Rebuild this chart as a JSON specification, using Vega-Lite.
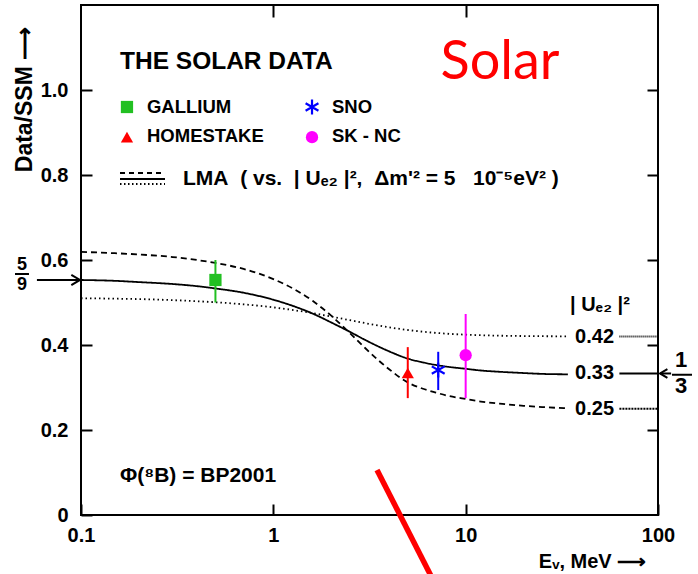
{
  "$schema": "https://vega.github.io/schema/vega-lite/v6.json",
  "width": 577,
  "height": 510,
  "autosize": {"type": "none"},
  "padding": {"left": 81, "top": 5, "right": 40, "bottom": 59},
  "background": "white",
  "config": {
    "view": {"stroke": "black", "strokeWidth": 2},
    "font": "Liberation Sans"
  },
  "datasets": {
    "curves": [
      {"E": 0.1, "P": 0.553, "s": "solid"}, {"E": 0.15, "P": 0.551, "s": "solid"}, {"E": 0.2, "P": 0.548, "s": "solid"}, {"E": 0.3, "P": 0.5435, "s": "solid"}, {"E": 0.4, "P": 0.5385, "s": "solid"}, {"E": 0.5, "P": 0.533, "s": "solid"}, {"E": 0.7, "P": 0.523, "s": "solid"}, {"E": 1, "P": 0.5065, "s": "solid"}, {"E": 1.3, "P": 0.49, "s": "solid"}, {"E": 1.6, "P": 0.474, "s": "solid"}, {"E": 2, "P": 0.453, "s": "solid"}, {"E": 2.5, "P": 0.431, "s": "solid"}, {"E": 3, "P": 0.412, "s": "solid"}, {"E": 3.5, "P": 0.397, "s": "solid"}, {"E": 4, "P": 0.385, "s": "solid"}, {"E": 5, "P": 0.368, "s": "solid"}, {"E": 6, "P": 0.359, "s": "solid"}, {"E": 7, "P": 0.353, "s": "solid"}, {"E": 8, "P": 0.349, "s": "solid"}, {"E": 10, "P": 0.344, "s": "solid"}, {"E": 12, "P": 0.34, "s": "solid"}, {"E": 15, "P": 0.337, "s": "solid"}, {"E": 20, "P": 0.334, "s": "solid"}, {"E": 25, "P": 0.332, "s": "solid"}, {"E": 34, "P": 0.331, "s": "solid"},
      {"E": 0.1, "P": 0.619, "s": "dashed"}, {"E": 0.15, "P": 0.616, "s": "dashed"}, {"E": 0.2, "P": 0.613, "s": "dashed"}, {"E": 0.3, "P": 0.607, "s": "dashed"}, {"E": 0.4, "P": 0.6, "s": "dashed"}, {"E": 0.5, "P": 0.593, "s": "dashed"}, {"E": 0.7, "P": 0.579, "s": "dashed"}, {"E": 1, "P": 0.555, "s": "dashed"}, {"E": 1.3, "P": 0.53, "s": "dashed"}, {"E": 1.6, "P": 0.504, "s": "dashed"}, {"E": 2, "P": 0.469, "s": "dashed"}, {"E": 2.5, "P": 0.428, "s": "dashed"}, {"E": 3, "P": 0.393, "s": "dashed"}, {"E": 3.5, "P": 0.365, "s": "dashed"}, {"E": 4, "P": 0.343, "s": "dashed"}, {"E": 5, "P": 0.312, "s": "dashed"}, {"E": 6, "P": 0.297, "s": "dashed"}, {"E": 7, "P": 0.288, "s": "dashed"}, {"E": 8, "P": 0.281, "s": "dashed"}, {"E": 10, "P": 0.273, "s": "dashed"}, {"E": 12, "P": 0.267, "s": "dashed"}, {"E": 15, "P": 0.262, "s": "dashed"}, {"E": 20, "P": 0.257, "s": "dashed"}, {"E": 25, "P": 0.254, "s": "dashed"}, {"E": 34, "P": 0.251, "s": "dashed"},
      {"E": 0.1, "P": 0.51, "s": "dotted"}, {"E": 0.15, "P": 0.509, "s": "dotted"}, {"E": 0.2, "P": 0.508, "s": "dotted"}, {"E": 0.3, "P": 0.5056, "s": "dotted"}, {"E": 0.4, "P": 0.503, "s": "dotted"}, {"E": 0.5, "P": 0.5006, "s": "dotted"}, {"E": 0.7, "P": 0.4957, "s": "dotted"}, {"E": 1, "P": 0.4885, "s": "dotted"}, {"E": 1.3, "P": 0.4815, "s": "dotted"}, {"E": 1.6, "P": 0.475, "s": "dotted"}, {"E": 2, "P": 0.467, "s": "dotted"}, {"E": 2.5, "P": 0.4584, "s": "dotted"}, {"E": 3, "P": 0.4515, "s": "dotted"}, {"E": 3.5, "P": 0.446, "s": "dotted"}, {"E": 4, "P": 0.4416, "s": "dotted"}, {"E": 5, "P": 0.4353, "s": "dotted"}, {"E": 6, "P": 0.4312, "s": "dotted"}, {"E": 7, "P": 0.4285, "s": "dotted"}, {"E": 8, "P": 0.4266, "s": "dotted"}, {"E": 10, "P": 0.4243, "s": "dotted"}, {"E": 12, "P": 0.423, "s": "dotted"}, {"E": 15, "P": 0.4219, "s": "dotted"}, {"E": 20, "P": 0.4211, "s": "dotted"}, {"E": 25, "P": 0.4207, "s": "dotted"}, {"E": 34, "P": 0.4204, "s": "dotted"},
      {"E": 63, "P": 0.42, "s": "seg42"}, {"E": 100, "P": 0.42, "s": "seg42"},
      {"E": 63, "P": 0.333, "s": "seg33"}, {"E": 100, "P": 0.333, "s": "seg33"},
      {"E": 63, "P": 0.25, "s": "seg25"}, {"E": 100, "P": 0.25, "s": "seg25"},
      {"E": 0.1595, "P": 0.8047, "s": "leg_dash"}, {"E": 0.2734, "P": 0.8047, "s": "leg_dash"},
      {"E": 0.1595, "P": 0.7906, "s": "leg_solid"}, {"E": 0.2734, "P": 0.7906, "s": "leg_solid"},
      {"E": 0.1595, "P": 0.7788, "s": "leg_dot"}, {"E": 0.2734, "P": 0.7788, "s": "leg_dot"}
    ],
    "points": [
      {"exp": "Gallium", "E": 0.5, "P": 0.553, "lo": 0.5, "hi": 0.6},
      {"exp": "Homestake", "E": 5.0, "P": 0.334, "lo": 0.275, "hi": 0.395},
      {"exp": "SNO", "E": 7.2, "P": 0.341, "lo": 0.294, "hi": 0.384},
      {"exp": "SK-NC", "E": 10, "P": 0.376, "lo": 0.275, "hi": 0.473}
    ],
    "markers": [
      {"exp": "Gallium", "E": 0.5, "P": 0.553},
      {"exp": "Homestake", "E": 5.0, "P": 0.334},
      {"exp": "SNO", "E": 7.2, "P": 0.341},
      {"exp": "SK-NC", "E": 10, "P": 0.376},
      {"exp": "Gallium", "E": 0.1734, "P": 0.96},
      {"exp": "Homestake", "E": 0.1734, "P": 0.889},
      {"exp": "SNO", "E": 1.589, "P": 0.96},
      {"exp": "SK-NC", "E": 1.589, "P": 0.889}
    ],
    "legendText": [
      {"E": 0.2203, "P": 0.946, "t": "GALLIUM"},
      {"E": 0.2203, "P": 0.878, "t": "HOMESTAKE"},
      {"E": 2.018, "P": 0.946, "t": "SNO"},
      {"E": 2.018, "P": 0.878, "t": "SK - NC"}
    ],
    "noteText": [
      {"E": 0.339, "P": 0.776, "t": "LMA\u00a0\u00a0(\u00a0vs.\u00a0\u00a0| Uₑ₂ |²,\u00a0\u00a0Δm'² = 5\u00a0\u00a0\u00a010⁻⁵eV²\u00a0)"},
      {"E": 0.1595, "P": 0.078, "t": "Φ(⁸B) = BP2001"}
    ],
    "curveText": [
      {"E": 46.8, "P": 0.42, "t": "0.42"},
      {"E": 46.8, "P": 0.333, "t": "0.33"},
      {"E": 46.8, "P": 0.25, "t": "0.25"},
      {"E": 49.9, "P": 0.494, "t": "| Uₑ₂ |²"}
    ],
    "fracLeft": [
      {"E": 0.0493, "P": 0.5882, "t": "5"},
      {"E": 0.0493, "P": 0.541, "t": "9"}
    ],
    "fracRight": [
      {"E": 131.7, "P": 0.3647, "t": "1"},
      {"E": 131.7, "P": 0.3024, "t": "3"}
    ],
    "bars": [
      {"E": 0.04537, "E2": 0.05365, "P": 0.567},
      {"E": 118.2, "E2": 150.2, "P": 0.33},
      {"E": 0.059, "E2": 0.0985, "P": 0.553},
      {"E": 102.4, "E2": 117, "P": 0.333}
    ],
    "slash": [
      {"E": 3.46, "P": 0.106},
      {"E": 6.77, "P": -0.153}
    ]
  },
  "resolve": {"axis": {"x": "independent", "y": "independent"}},
  "layer": [
    {
      "data": {"name": "curves"},
      "mark": {"type": "line", "color": "black", "strokeWidth": 1.8, "interpolate": "monotone"},
      "encoding": {
        "x": {"field": "E", "type": "quantitative", "scale": {"type": "log", "domain": [0.1, 100], "nice": false},
          "axis": {"orient": "bottom", "values": [0.1, 1, 10, 100], "labelExpr": "datum.value < 0.5 ? '0.1' : format(datum.value, 'd')", "tickSize": -11, "tickWidth": 2, "tickColor": "black", "domain": false, "grid": false, "labelFontSize": 20, "labelFontWeight": "bold", "labelColor": "black", "labelPadding": 21, "labelFlush": false, "labelOverlap": false, "labelBaseline": "top", "title": "Eᵥ, MeV ⟶", "titleFontSize": 20, "titleFontWeight": "bold", "titleColor": "black", "titleX": 511, "titleY": 46, "titleAlign": "center", "titleBaseline": "middle"}},
        "y": {"field": "P", "type": "quantitative", "scale": {"domain": [0, 1.2], "nice": false, "zero": false},
          "axis": {"orient": "left", "values": [0, 0.2, 0.4, 0.6, 0.8, 1.0], "labelExpr": "datum.value == 0 ? '0' : format(datum.value, '.1f')", "tickSize": -11, "tickWidth": 2, "tickColor": "black", "domain": false, "grid": false, "labelFontSize": 20, "labelFontWeight": "bold", "labelColor": "black", "labelPadding": 24, "labelOverlap": false, "title": "Data/SSM ⟶", "titleFontSize": 23, "titleFontWeight": "bold", "titleColor": "black", "titleAngle": 270, "titleX": -57, "titleY": 94, "titleAlign": "center", "titleBaseline": "middle"}},
        "strokeDash": {"field": "s", "type": "nominal", "legend": null,
          "scale": {"domain": ["solid", "dashed", "dotted", "seg42", "seg33", "seg25", "leg_dash", "leg_solid", "leg_dot"],
            "range": [[1, 0], [6, 4], [1.5, 3], [1, 1], [1, 0], [2, 1], [5, 4], [1, 0], [1.5, 2.5]]}}
      }
    },
    {
      "data": {"name": "points"},
      "mark": {"type": "rule", "strokeWidth": 2},
      "encoding": {
        "x": {"field": "E", "type": "quantitative", "scale": {"type": "log", "domain": [0.1, 100], "nice": false}, "axis": null},
        "y": {"field": "lo", "type": "quantitative", "scale": {"domain": [0, 1.2], "nice": false, "zero": false}, "axis": null},
        "y2": {"field": "hi"},
        "color": {"field": "exp", "type": "nominal", "legend": null, "scale": {"domain": ["Gallium", "Homestake", "SNO", "SK-NC"], "range": ["#22c022", "#ff0000", "#0000ff", "#ff00ff"]}}
      }
    },
    {
      "data": {"name": "markers"},
      "transform": [{"filter": "datum.exp != 'SNO'"}],
      "mark": {"type": "point", "filled": true, "opacity": 1, "size": 150},
      "encoding": {
        "x": {"field": "E", "type": "quantitative", "scale": {"type": "log", "domain": [0.1, 100], "nice": false},
          "axis": {"orient": "top", "values": [1, 10], "tickSize": -12, "tickWidth": 2, "tickColor": "black", "labels": false, "domain": false, "grid": false, "title": null}},
        "y": {"field": "P", "type": "quantitative", "scale": {"domain": [0, 1.2], "nice": false, "zero": false},
          "axis": {"orient": "right", "values": [0.2, 0.4, 0.6, 0.8, 1.0], "tickSize": -11, "tickWidth": 2, "tickColor": "black", "labels": false, "domain": false, "grid": false, "title": null}},
        "color": {"field": "exp", "type": "nominal", "legend": null, "scale": {"domain": ["Gallium", "Homestake", "SNO", "SK-NC"], "range": ["#22c022", "#ff0000", "#0000ff", "#ff00ff"]}},
        "shape": {"field": "exp", "type": "nominal", "legend": null, "scale": {"domain": ["Gallium", "Homestake", "SK-NC"], "range": ["square", "triangle-up", "circle"]}}
      }
    },
    {
      "data": {"name": "markers"},
      "transform": [{"filter": "datum.exp == 'SNO'"}],
      "mark": {"type": "point", "filled": false, "opacity": 1, "size": 220, "strokeWidth": 2.2, "color": "#0000ff", "shape": "M0,-1L0,1M-0.866,-0.5L0.866,0.5M-0.866,0.5L0.866,-0.5"},
      "encoding": {
        "x": {"field": "E", "type": "quantitative", "scale": {"type": "log", "domain": [0.1, 100], "nice": false}, "axis": null},
        "y": {"field": "P", "type": "quantitative", "scale": {"domain": [0, 1.2], "nice": false, "zero": false}, "axis": null}
      }
    },
    {
      "data": {"values": [{"E": 0.1595, "P": 1.0487, "t": "THE SOLAR DATA"}]},
      "mark": {"type": "text", "fontSize": 24.5, "fontWeight": "bold", "align": "left", "baseline": "alphabetic", "color": "black"},
      "encoding": {
        "x": {"field": "E", "type": "quantitative", "scale": {"type": "log", "domain": [0.1, 100], "nice": false}, "axis": null},
        "y": {"field": "P", "type": "quantitative", "scale": {"domain": [0, 1.2], "nice": false, "zero": false}, "axis": null},
        "text": {"field": "t"}
      }
    },
    {
      "data": {"values": [{"E": 15.09, "P": 1.0259, "t": "Solar"}]},
      "mark": {"type": "text", "fontSize": 54, "font": "Lato", "align": "center", "baseline": "alphabetic", "color": "#ff0000"},
      "encoding": {
        "x": {"field": "E", "type": "quantitative", "scale": {"type": "log", "domain": [0.1, 100], "nice": false}, "axis": null},
        "y": {"field": "P", "type": "quantitative", "scale": {"domain": [0, 1.2], "nice": false, "zero": false}, "axis": null},
        "text": {"field": "t"}
      }
    },
    {
      "data": {"name": "legendText"},
      "mark": {"type": "text", "fontSize": 18.5, "fontWeight": "bold", "align": "left", "baseline": "alphabetic", "color": "black"},
      "encoding": {
        "x": {"field": "E", "type": "quantitative", "scale": {"type": "log", "domain": [0.1, 100], "nice": false}, "axis": null},
        "y": {"field": "P", "type": "quantitative", "scale": {"domain": [0, 1.2], "nice": false, "zero": false}, "axis": null},
        "text": {"field": "t"}
      }
    },
    {
      "data": {"name": "noteText"},
      "mark": {"type": "text", "fontSize": 21, "fontWeight": "bold", "align": "left", "baseline": "alphabetic", "color": "black"},
      "encoding": {
        "x": {"field": "E", "type": "quantitative", "scale": {"type": "log", "domain": [0.1, 100], "nice": false}, "axis": null},
        "y": {"field": "P", "type": "quantitative", "scale": {"domain": [0, 1.2], "nice": false, "zero": false}, "axis": null},
        "text": {"field": "t"}
      }
    },
    {
      "data": {"name": "curveText"},
      "mark": {"type": "text", "fontSize": 20, "fontWeight": "bold", "align": "center", "baseline": "middle", "color": "black"},
      "encoding": {
        "x": {"field": "E", "type": "quantitative", "scale": {"type": "log", "domain": [0.1, 100], "nice": false}, "axis": null},
        "y": {"field": "P", "type": "quantitative", "scale": {"domain": [0, 1.2], "nice": false, "zero": false}, "axis": null},
        "text": {"field": "t"}
      }
    },
    {
      "data": {"name": "fracLeft"},
      "mark": {"type": "text", "fontSize": 18, "fontWeight": "bold", "align": "center", "baseline": "middle", "color": "black"},
      "encoding": {
        "x": {"field": "E", "type": "quantitative", "scale": {"type": "log", "domain": [0.1, 100], "nice": false}, "axis": null},
        "y": {"field": "P", "type": "quantitative", "scale": {"domain": [0, 1.2], "nice": false, "zero": false}, "axis": null},
        "text": {"field": "t"}
      }
    },
    {
      "data": {"name": "fracRight"},
      "mark": {"type": "text", "fontSize": 22, "fontWeight": "bold", "align": "center", "baseline": "middle", "color": "black"},
      "encoding": {
        "x": {"field": "E", "type": "quantitative", "scale": {"type": "log", "domain": [0.1, 100], "nice": false}, "axis": null},
        "y": {"field": "P", "type": "quantitative", "scale": {"domain": [0, 1.2], "nice": false, "zero": false}, "axis": null},
        "text": {"field": "t"}
      }
    },
    {
      "data": {"name": "bars"},
      "mark": {"type": "rule", "strokeWidth": 2, "color": "black"},
      "encoding": {
        "x": {"field": "E", "type": "quantitative", "scale": {"type": "log", "domain": [0.1, 100], "nice": false}, "axis": null},
        "x2": {"field": "E2"},
        "y": {"field": "P", "type": "quantitative", "scale": {"domain": [0, 1.2], "nice": false, "zero": false}, "axis": null}
      }
    },
    {
      "data": {"values": [{"E": 0.0988, "P": 0.553}]},
      "mark": {"type": "point", "filled": false, "opacity": 1, "size": 300, "strokeWidth": 2, "color": "black", "shape": "M-1,-0.6L0,0L-1,0.6"},
      "encoding": {
        "x": {"field": "E", "type": "quantitative", "scale": {"type": "log", "domain": [0.1, 100], "nice": false}, "axis": null},
        "y": {"field": "P", "type": "quantitative", "scale": {"domain": [0, 1.2], "nice": false, "zero": false}, "axis": null}
      }
    },
    {
      "data": {"values": [{"E": 102.4, "P": 0.333}]},
      "mark": {"type": "point", "filled": false, "opacity": 1, "size": 220, "strokeWidth": 2, "color": "black", "shape": "M1,-0.6L0,0L1,0.6"},
      "encoding": {
        "x": {"field": "E", "type": "quantitative", "scale": {"type": "log", "domain": [0.1, 100], "nice": false}, "axis": null},
        "y": {"field": "P", "type": "quantitative", "scale": {"domain": [0, 1.2], "nice": false, "zero": false}, "axis": null}
      }
    },
    {
      "data": {"name": "slash"},
      "mark": {"type": "line", "color": "#ff0000", "strokeWidth": 5.5},
      "encoding": {
        "x": {"field": "E", "type": "quantitative", "scale": {"type": "log", "domain": [0.1, 100], "nice": false}, "axis": null},
        "y": {"field": "P", "type": "quantitative", "scale": {"domain": [0, 1.2], "nice": false, "zero": false}, "axis": null}
      }
    }
  ]
}
